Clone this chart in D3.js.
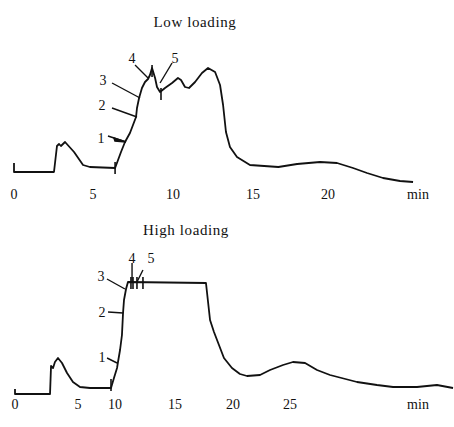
<!DOCTYPE html>
<html>
<head>
<meta charset="utf-8">
<script src="https://cdn.jsdelivr.net/npm/d3@7"></script>
<style>
  body { margin: 0; background: #fff; }
  svg text { font-family: "Liberation Serif", "DejaVu Serif", serif; fill: #111; }
</style>
</head>
<body>
<div id="chart"></div>
<script>
// Low loading trace (time in min, detector signal in arbitrary units)
const lowTime = [0, 0, 2.53, 2.72, 2.85, 2.97, 3.23, 3.8, 4.37, 4.8, 6.38, 6.75, 7.0, 7.31, 7.5, 7.69, 7.75, 7.88,
  8.06, 8.25, 8.44, 8.56, 8.69, 8.88, 9.0, 9.19, 9.5, 9.94, 10.31, 10.5, 10.75, 11.0, 11.38, 11.81, 12.19, 12.63,
  12.94, 13.13, 13.31, 13.56, 14.0, 14.81, 16.69, 17.94, 19.47, 20.6, 21.67, 22.6, 23.67, 24.8, 25.67];
const lowSignal = [22, 13, 13, 39, 41, 39, 43, 33, 20, 18, 17, 33, 43, 52, 60, 68, 77, 87,
  97, 103, 106, 110, 117, 107, 98, 93, 97, 102, 107, 105, 98, 97, 103, 112, 117, 113,
  100, 80, 53, 38, 28, 20, 18, 21, 23, 22, 17, 12, 7, 4, 3];

// High loading trace
const highTime = [0, 0, 2.78, 2.86, 3.02, 3.17, 3.41, 3.73, 4.13, 4.6, 5.27, 6.62, 9.46, 9.86, 10.17, 10.25, 10.42,
  10.58, 10.67, 10.75, 10.92, 11.08, 17.67, 18.02, 18.36, 18.79, 19.22, 19.91, 20.61, 21.23, 22.37, 23.25, 24.39,
  25.26, 26.32, 27.37, 28.51, 30.88, 32.63, 34.04, 36.14, 37.89, 39.3];
const highSignal = [11, 6, 6, 34, 32, 38, 42, 37, 27, 18, 13, 12, 12, 22, 32, 38, 50,
  65, 87, 100, 111, 118, 117, 80, 68, 55, 42, 32, 26, 24, 25, 30, 35,
  38, 37, 30, 25, 18, 15, 13, 13, 15, 12];

// tick labels
const lowTicks = [0, 5, 10, 15, 20];
const highTicks = [0, 5, 10, 15, 20, 25];

// sampling points 1-5 (time, signal where the pointer meets the trace)
const markerNames = ["1", "2", "3", "4", "5"];
const lowMarkTime = [7.06, 7.75, 7.94, 8.44, 9.19];
const lowMarkSignal = [43, 68, 87, 107, 102];
const highMarkTime = [10.17, 10.67, 10.83, 11.42, 11.83];
const highMarkSignal = [37, 87, 111, 117, 118];

// short event ticks across the trace
const lowEventTime = [6.38, 8.69, 9.25];
const lowEventSignal = [17, 114, 91];
const highEventTime = [9.46, 11.33, 11.5, 11.83, 12.33];
const highEventSignal = [15, 117, 117, 117, 117];

const width = 454, height = 427;

const svg = d3.select("#chart").append("svg")
  .attr("width", width)
  .attr("height", height);

const line = d3.line().curve(d3.curveLinear);

function drawPanel(opt) {
  const x = d3.scaleLinear().domain(opt.ticks).range(opt.tickPx);
  const y = d3.scaleLinear().domain([0, 120]).range([opt.y0, opt.y0 - 120]);
  const g = svg.append("g");

  // title
  g.append("text")
    .attr("x", opt.titleX)
    .attr("y", opt.titleY)
    .attr("text-anchor", "middle")
    .style("font-size", "15px")
    .style("letter-spacing", "0.6px")
    .text(opt.title);

  // trace
  const pts = opt.time.map((t, i) => [x(t), y(opt.signal[i])]);
  g.append("path")
    .attr("d", line(pts))
    .attr("fill", "none")
    .attr("stroke", "#111")
    .attr("stroke-width", 1.8)
    .attr("stroke-linejoin", "round");

  // event ticks
  opt.eventTime.forEach((t, i) => {
    const cx = x(t), cy = y(opt.eventSignal[i]);
    g.append("line")
      .attr("x1", cx).attr("x2", cx)
      .attr("y1", cy - 6).attr("y2", cy + 6)
      .attr("stroke", "#111").attr("stroke-width", 1.6);
  });

  // numbered pointers
  markerNames.forEach((name, i) => {
    const ex = x(opt.markTime[i]), ey = y(opt.markSignal[i]);
    const o = opt.offsets[i];
    g.append("line")
      .attr("x1", ex + o[2]).attr("y1", ey + o[3])
      .attr("x2", ex).attr("y2", ey)
      .attr("stroke", "#111").attr("stroke-width", 1.4);
    g.append("text")
      .attr("x", ex + o[0])
      .attr("y", ey + o[1])
      .attr("text-anchor", "middle")
      .attr("dominant-baseline", "central")
      .style("font-size", "14px")
      .text(name);
  });

  return { x, y, g, opt };
}

// x axis labels (no axis line in the original), drawn in a top layer
function drawTimeLabels(panel) {
  const { x, opt } = panel;
  const layer = svg.append("g").attr("class", "time-labels");
  opt.ticks.forEach(d => {
    layer.append("text")
      .attr("x", x(d))
      .attr("y", opt.axisY)
      .attr("text-anchor", "middle")
      .style("font-size", "14px")
      .text(String(d));
  });
  layer.append("text")
    .attr("x", 418)
    .attr("y", opt.axisY)
    .attr("text-anchor", "middle")
    .style("font-size", "14px")
    .text("min");
}

const low = drawPanel({
  title: "Low loading", titleX: 195, titleY: 27,
  time: lowTime, signal: lowSignal,
  ticks: lowTicks, tickPx: [14, 93, 173, 253, 328],
  y0: 185, axisY: 199,
  markTime: lowMarkTime, markSignal: lowMarkSignal,
  eventTime: lowEventTime, eventSignal: lowEventSignal,
  // [label dx, label dy, line start dx, line start dy]
  offsets: [[-25, -4, -18, -6], [-35, -12, -25, -9], [-37, -18, -28, -15], [-16, -20, -13, -13], [15, -25, 12, -20]]
});

// wedge on pointer 1 (low loading)
{
  const ex = low.x(lowMarkTime[0]), ey = low.y(lowMarkSignal[0]);
  low.g.append("path")
    .attr("d", `M${ex - 12},${ey - 4} L${ex},${ey} L${ex - 11},${ey - 1} Z`)
    .attr("fill", "#111").attr("stroke", "#111").attr("stroke-width", 1.5);
}

const high = drawPanel({
  title: "High loading", titleX: 186, titleY: 235,
  time: highTime, signal: highSignal,
  ticks: highTicks, tickPx: [15, 78, 115, 175, 233, 290],
  y0: 400, axisY: 409,
  markTime: highMarkTime, markSignal: highMarkSignal,
  eventTime: highEventTime, eventSignal: highEventSignal,
  offsets: [[-15, -6, -10, -5], [-21, -1, -15, -1], [-24, -13, -18, -10], [0, -25, 0, -20], [14, -24, 6, -12]]
});

drawTimeLabels(low);
drawTimeLabels(high);
</script>
</body>
</html>
